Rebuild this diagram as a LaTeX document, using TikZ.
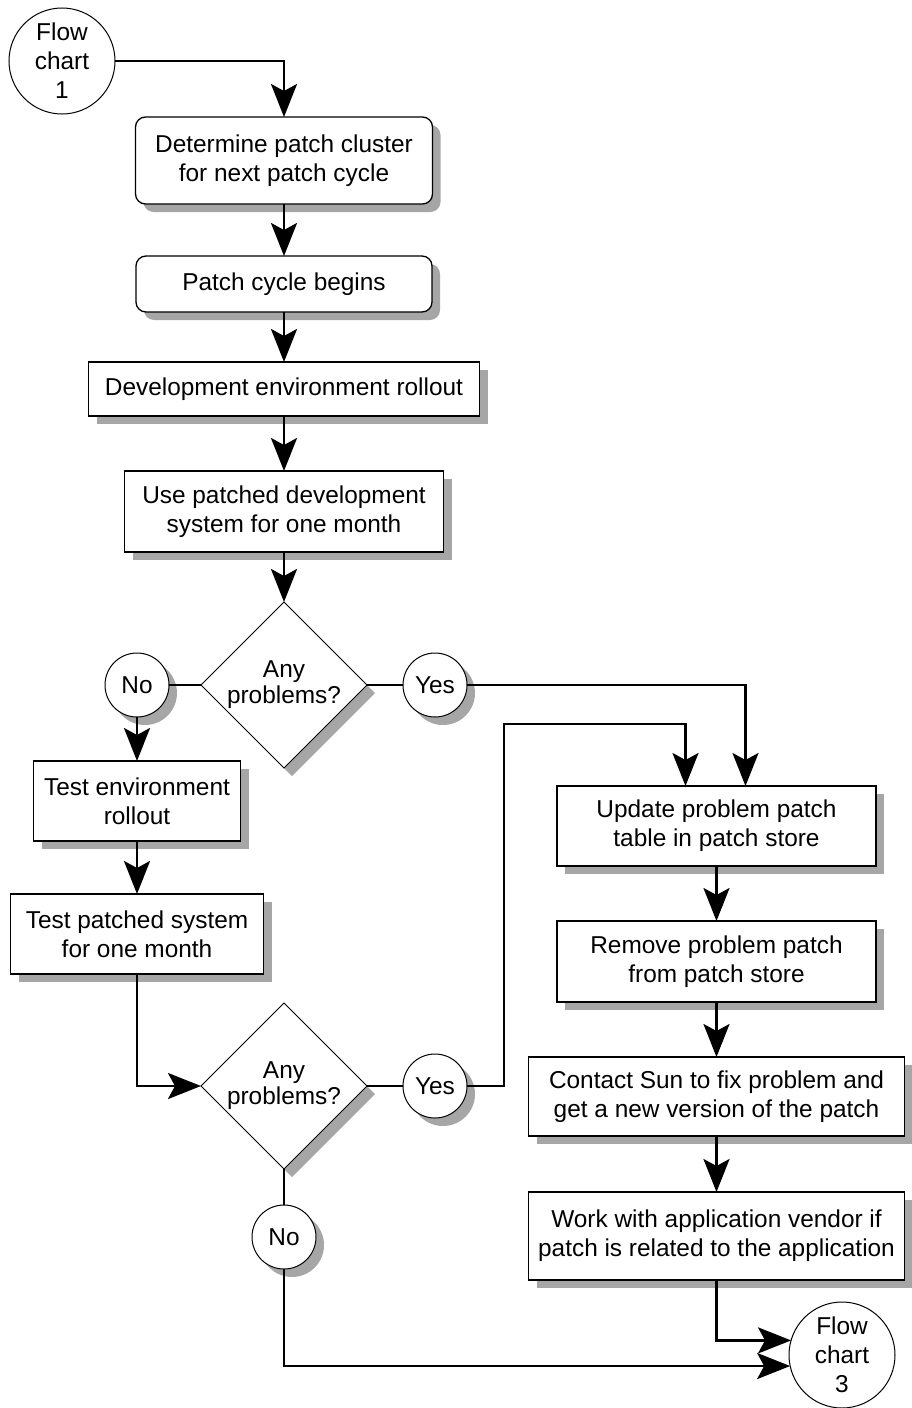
\documentclass[tikz,border=0pt]{standalone}
\usepackage{fontspec}
\setmainfont{Liberation Sans}
\usetikzlibrary{shapes.geometric,shadows,arrows.meta}
\definecolor{shadowgray}{RGB}{166,166,166}
\begin{document}
\begin{tikzpicture}[x=0.5pt,y=-0.5pt,
  every node/.style={font=\fontsize{12.2pt}{14.5pt}\selectfont, align=center,
                     inner sep=0pt, outer sep=0pt},
  boxshadow/.style={drop shadow={shadow xshift=4pt,shadow yshift=-4pt,
                                 fill=shadowgray,opacity=1}},
  procbox/.style={draw, rectangle, line width=0.65pt, fill=white, boxshadow},
  roundbox/.style={procbox, rounded corners=5pt},
  decision/.style={draw, diamond, shape aspect=1, minimum width=83pt,
                   minimum height=83pt, line width=0.5pt, fill=white, boxshadow,
                   font=\fontsize{12.2pt}{13pt}\selectfont},
  answer/.style={draw, circle, minimum size=32pt, line width=0.5pt,
                 fill=white, boxshadow},
  offpage/.style={draw, circle, minimum size=53pt, line width=0.5pt, fill=white},
  conn/.style={line width=1.4pt},
  arr/.style={conn, -{Stealth[length=16.5pt,width=13pt,inset=3.5pt]}}
]
\useasboundingbox (0,0) rectangle (911,1408);

% main column
\node[offpage] (fc1) at (62,61) {Flow\\chart\\1};
\node[roundbox, minimum width=148.5pt, minimum height=43.5pt] (b1) at (284,160.5)
  {Determine patch cluster\\for next patch cycle};
\node[roundbox, minimum width=148pt, minimum height=28pt] (b2) at (284,284)
  {Patch cycle begins};
\node[procbox, minimum width=195.5pt, minimum height=27pt] (b3) at (284,389)
  {Development environment rollout};
\node[procbox, minimum width=159.5pt, minimum height=40.5pt] (b4) at (284,511.5)
  {Use patched development\\system for one month};
\node[decision] (d1) at (284,685) {Any\\problems?};
\node[answer] (no1) at (137,685) {No};
\node[answer] (yes1) at (435,685) {Yes};

% test branch
\node[procbox, minimum width=103.5pt, minimum height=40pt] (t1) at (137,801)
  {Test environment\\rollout};
\node[procbox, minimum width=126.5pt, minimum height=40pt] (t2) at (137,934)
  {Test patched system\\for one month};
\node[decision] (d2) at (284,1086) {Any\\problems?};
\node[answer] (yes2) at (435,1086) {Yes};
\node[answer] (no2) at (284,1237) {No};

% problem handling
\node[procbox, minimum width=159.5pt, minimum height=40pt] (b5) at (716.5,826)
  {Update problem patch\\table in patch store};
\node[procbox, minimum width=159.5pt, minimum height=40.5pt] (b6) at (716.5,961.5)
  {Remove problem patch\\from patch store};
\node[procbox, minimum width=188pt, minimum height=39.5pt] (b7) at (716.5,1096.5)
  {Contact Sun to fix problem and\\get a new version of the patch};
\node[procbox, minimum width=188pt, minimum height=44pt] (b8) at (716.5,1236)
  {Work with application vendor if\\patch is related to the application};
\node[offpage] (fc3) at (842,1355) {Flow\\chart\\3};

\coordinate (loop) at (504,724);

% connectors
\draw[arr] (fc1.east) -| (b1.north);
\draw[arr] (b1.south) -- (b2.north);
\draw[arr] (b2.south) -- (b3.north);
\draw[arr] (b3.south) -- (b4.north);
\draw[arr] (b4.south) -- (d1.north);
\draw[conn] (d1.west) -- (no1.east);
\draw[conn] (d1.east) -- (yes1.west);
\draw[arr] (no1.south) -- (t1.north);
\draw[arr] (yes1.east) -| ([xshift=14.5pt]b5.north);
\draw[arr] (t1.south) -- (t2.north);
\draw[arr] (t2.south) |- (d2.west);
\draw[conn] (d2.east) -- (yes2.west);
\draw[conn] (d2.south) -- (no2.north);
\draw[arr] (yes2.east) -| (loop) -| ([xshift=-15.5pt]b5.north);
\draw[arr] (b5.south) -- (b6.north);
\draw[arr] (b6.south) -- (b7.north);
\draw[arr] (b7.south) -- (b8.north);
\draw[arr] (b8.south) |- (fc3.164.5);
\draw[arr] (no2.south) |- (fc3.192);
\end{tikzpicture}
\end{document}
